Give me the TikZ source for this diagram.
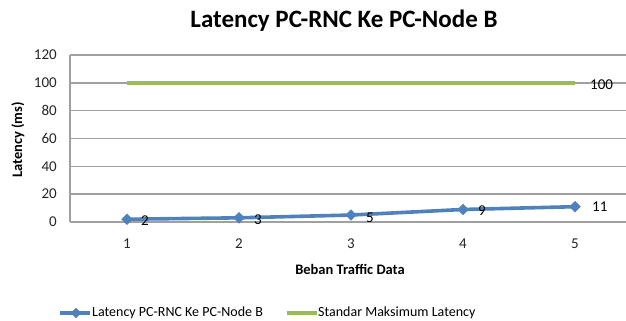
\documentclass[tikz,border=0pt]{standalone}
\usepackage{fontspec}
\setmainfont{Carlito}
\usetikzlibrary{shapes.geometric}
\definecolor{serblue}{HTML}{4F81BD}
\definecolor{sergreen}{HTML}{9BBB59}
\definecolor{gridgray}{HTML}{A0A0A0}
\definecolor{txt}{HTML}{262626}
\tikzset{
  gridline/.style={draw=gridgray, line width=1.4pt},
  bluel/.style={draw=serblue, line width=3.6pt, line join=round},
  greenl/.style={draw=sergreen, line width=3.4pt},
  mk/.style={diamond, fill=serblue, draw=serblue, minimum size=11pt, inner sep=0pt},
  tick/.style={font=\fontsize{15}{17}\selectfont, text=txt, inner sep=0pt},
  dlab/.style={font=\fontsize{15}{17}\selectfont, text=black, inner sep=0pt},
  axtitle/.style={font=\bfseries\fontsize{14.5}{16}\selectfont, text=black, inner sep=0pt},
  legtext/.style={font=\fontsize{14}{16}\selectfont, text=black, inner sep=0pt, anchor=west}
}
\begin{document}
\begin{tikzpicture}[x=1pt,y=-1pt]
\useasboundingbox (0,0) rectangle (626,321);
\fill[white] (0,0) rectangle (626,321);
% title
\node[font=\bfseries\fontsize{25}{29}\selectfont, inner sep=0pt] (title) at (344,21) {Latency PC-RNC Ke PC-Node B};
% grid
\foreach \v in {20,40,...,120} {
  \draw[gridline] (70,{222-1.3917*\v}) -- (626,{222-1.3917*\v});
}
\draw[gridline] (70,222) -- (626,222);
\draw[gridline] (70,{222-1.3917*120}) -- (70,222);
% y ticks
\foreach \v in {0,20,...,120} {
  \node[tick, anchor=east] (y\v) at (57,{222-1.3917*\v}) {\v};
}
% x ticks
\foreach \i/\x in {1/127,2/239,3/351,4/463,5/575} {
  \node[tick] (x\i) at (\x,244) {\i};
}
% axis titles
\node[axtitle] (xt) at (350,269) {Beban Traffic Data};
\node[axtitle, rotate=90] (yt) at (18,140) {Latency (ms)};
% green series
\coordinate (g1) at (127,{222-1.3917*100});
\coordinate (g5) at (575,{222-1.3917*100});
\draw[greenl] (g1) -- (g5);
\node[dlab, anchor=west] (gl) at (590,85) {100};
% blue series
\coordinate (p1) at (127,{222-1.3917*2});
\coordinate (p2) at (239,{222-1.3917*3});
\coordinate (p3) at (351,{222-1.3917*5});
\coordinate (p4) at (463,{222-1.3917*9});
\coordinate (p5) at (575,{222-1.3917*11});
\draw[bluel] (p1) -- (p2) -- (p3) -- (p4) -- (p5);
\foreach \p in {p1,p2,p3,p4,p5} { \node[mk] at (\p) {}; }
\node[dlab] (l1) at (145,221) {2};
\node[dlab] (l2) at (258,220) {3};
\node[dlab] (l3) at (370,218) {5};
\node[dlab] (l4) at (482,211) {9};
\node[dlab, anchor=west] (l5) at (592,207) {11};
% legend
\coordinate (lb1) at (60,313);
\coordinate (lb2) at (90,313);
\draw[bluel] (lb1) -- (lb2);
\node[mk, minimum size=10pt] (lbm) at (76,313) {};
\node[legtext] (lbt) at (92,313) {Latency PC-RNC Ke PC-Node B};
\coordinate (lg1) at (287,313);
\coordinate (lg2) at (317,313);
\draw[greenl] (lg1) -- (lg2);
\node[legtext] (lgt) at (318,313) {Standar Maksimum Latency};
\end{tikzpicture}
\end{document}
